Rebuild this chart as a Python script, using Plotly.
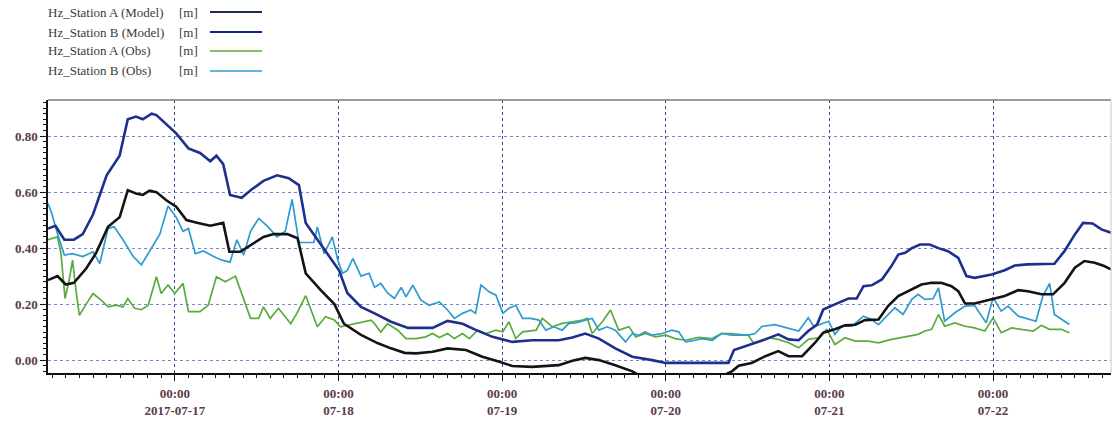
import pandas as pd
import plotly.graph_objects as go

# ---------------- data (hours relative to 2017-07-17 00:00) ----------------
base_time = "2017-07-17 00:00"

model_b_hours = [-18.6, -17.5, -16.2, -14.8, -13.5, -12.0, -10.0, -8.1, -6.9, -5.7, -4.7, -3.4, -2.7, -1.2, 0.2,
                 2.0, 3.7, 5.2, 6.1, 7.1, 8.1, 9.8, 11.3, 13.0, 15.0, 16.7, 18.2, 19.2, 20.9, 22.4, 24.1, 25.3,
                 27.3, 29.3, 31.7, 34.2, 37.8, 40.0, 42.2, 44.2, 46.6, 49.5, 52.4, 56.3, 58.3, 60.2, 62.2, 64.6,
                 67.1, 70.0, 72.0, 76.8, 81.2, 82.0, 84.6, 86.6, 88.5, 90.0, 91.5, 92.9, 94.2, 95.1, 96.8, 98.8,
                 100.0, 101.0, 102.2, 103.7, 105.1, 106.1, 107.1, 108.1, 109.3, 110.7, 112.0, 113.4, 114.9,
                 116.1, 117.3, 119.8, 121.7, 123.2, 125.1, 127.1, 129.0, 130.5, 132.0, 133.2, 134.6, 135.9, 137.3]
model_b_vals = [0.47, 0.48, 0.43, 0.43, 0.45, 0.52, 0.66, 0.73, 0.86, 0.87, 0.86, 0.88, 0.875, 0.84, 0.81,
                0.756, 0.74, 0.71, 0.73, 0.70, 0.59, 0.58, 0.61, 0.64, 0.66, 0.65, 0.625, 0.49, 0.43, 0.38, 0.32,
                0.24, 0.19, 0.167, 0.137, 0.115, 0.115, 0.14, 0.13, 0.107, 0.083, 0.065, 0.071, 0.071, 0.081,
                0.095, 0.077, 0.042, 0.012, 0.0, -0.01, -0.01, -0.01, 0.036, 0.056, 0.074, 0.092, 0.074, 0.071,
                0.104, 0.127, 0.181, 0.199, 0.22, 0.22, 0.264, 0.267, 0.288, 0.336, 0.377, 0.383, 0.40, 0.413,
                0.413, 0.40, 0.389, 0.365, 0.30, 0.294, 0.306, 0.321, 0.338, 0.342, 0.342, 0.344, 0.39, 0.449,
                0.49, 0.488, 0.467, 0.455]

model_a_hours = [-18.6, -17.2, -16.0, -14.8, -13.0, -11.6, -9.8, -8.1, -6.9, -5.7, -4.7, -3.7, -2.7, -1.2, 0.2,
                 1.7, 3.4, 5.2, 7.1, 8.0, 9.6, 11.1, 13.0, 14.5, 16.5, 18.0, 19.2, 21.4, 23.4, 24.8, 27.3, 29.8,
                 31.7, 33.7, 35.4, 37.8, 40.0, 42.7, 45.1, 47.6, 49.5, 52.4, 56.3, 58.3, 60.2, 62.2, 64.6, 67.1,
                 68.5, 80.0, 81.7, 82.7, 84.6, 86.6, 88.5, 90.0, 92.0, 93.9, 95.1, 96.8, 98.3, 99.8, 101.2,
                 103.2, 104.6, 106.1, 107.6, 109.5, 111.0, 112.4, 113.9, 114.9, 115.9, 117.3, 119.8, 121.7,
                 123.7, 125.1, 127.1, 128.8, 130.5, 132.0, 133.4, 134.9, 136.3, 137.3]
model_a_vals = [0.286, 0.30, 0.27, 0.276, 0.327, 0.38, 0.476, 0.51, 0.607, 0.595, 0.59, 0.605, 0.60, 0.57,
                0.548, 0.50, 0.49, 0.48, 0.49, 0.387, 0.387, 0.41, 0.44, 0.45, 0.45, 0.435, 0.31, 0.25, 0.20,
                0.13, 0.09, 0.06, 0.042, 0.026, 0.024, 0.03, 0.042, 0.036, 0.012, -0.006, -0.021, -0.024,
                -0.018, -0.002, 0.008, 0.0, -0.018, -0.04, -0.06, -0.06, -0.04, -0.02, -0.01, 0.014, 0.032,
                0.014, 0.014, 0.062, 0.098, 0.11, 0.124, 0.126, 0.143, 0.145, 0.193, 0.229, 0.246, 0.27, 0.276,
                0.276, 0.264, 0.246, 0.202, 0.202, 0.217, 0.229, 0.25, 0.246, 0.235, 0.235, 0.276, 0.33, 0.354,
                0.348, 0.336, 0.324]

obs_b_hours = [-18.6, -18.0, -17.2, -16.2, -15.0, -13.5, -12.0, -11.0, -9.8, -8.9, -7.6, -6.1, -4.9, -3.7, -2.2,
               -1.0, 0.2, 1.2, 2.0, 3.0, 4.2, 5.7, 6.9, 8.1, 9.1, 10.1, 11.1, 12.3, 13.5, 15.0, 16.2, 17.2, 18.2,
               19.4, 20.4, 20.9, 21.9, 23.1, 23.9, 24.6, 25.3, 26.1, 27.3, 28.5, 29.3, 30.2, 31.2, 32.2, 33.2,
               33.9, 34.9, 36.1, 37.3, 38.8, 40.0, 41.0, 42.2, 43.4, 44.1, 44.9, 46.1, 47.1, 48.1, 49.0, 50.0,
               51.0, 52.2, 53.4, 54.4, 55.6, 56.8, 57.8, 58.8, 60.2, 61.2, 62.2, 63.4, 64.6, 66.1, 67.1, 68.0,
               69.0, 70.0, 71.5, 72.9, 73.9, 74.9, 76.3, 77.3, 78.8, 80.2, 81.7, 84.1, 85.1, 86.1, 88.0, 90.0,
               91.5, 92.9, 93.7, 94.6, 95.9, 96.8, 97.8, 99.3, 101.0, 102.2, 103.2, 104.4, 105.6, 106.8, 108.1,
               109.0, 110.0, 111.2, 112.0, 112.9, 114.4, 115.9, 117.3, 119.0, 120.0, 121.2, 122.2, 123.7, 125.6,
               126.3, 127.3, 128.3, 129.0, 130.2, 131.2]
obs_b_vals = [0.56, 0.52, 0.45, 0.375, 0.38, 0.37, 0.387, 0.345, 0.47, 0.476, 0.43, 0.37, 0.34, 0.39, 0.45,
              0.55, 0.51, 0.46, 0.47, 0.38, 0.39, 0.37, 0.357, 0.35, 0.43, 0.375, 0.46, 0.506, 0.48, 0.44, 0.46,
              0.574, 0.42, 0.42, 0.42, 0.476, 0.38, 0.44, 0.357, 0.31, 0.32, 0.363, 0.30, 0.31, 0.26, 0.274,
              0.24, 0.22, 0.26, 0.226, 0.268, 0.214, 0.196, 0.208, 0.179, 0.149, 0.167, 0.179, 0.167, 0.268,
              0.244, 0.232, 0.167, 0.185, 0.196, 0.149, 0.149, 0.143, 0.107, 0.119, 0.107, 0.131, 0.133, 0.143,
              0.149, 0.107, 0.119, 0.107, 0.065, 0.095, 0.089, 0.101, 0.089, 0.095, 0.107, 0.101, 0.065, 0.071,
              0.077, 0.071, 0.095, 0.089, 0.089, 0.095, 0.12, 0.127, 0.115, 0.104, 0.151, 0.121, 0.127, 0.139,
              0.092, 0.121, 0.121, 0.157, 0.145, 0.127, 0.157, 0.187, 0.163, 0.217, 0.235, 0.217, 0.219, 0.258,
              0.139, 0.169, 0.193, 0.195, 0.133, 0.223, 0.175, 0.193, 0.157, 0.145, 0.139, 0.229, 0.274, 0.163,
              0.145, 0.127]

obs_a_hours = [-18.6, -17.2, -16.7, -16.1, -15.5, -15.0, -14.5, -14.0, -13.0, -12.0, -10.8, -9.8, -8.6, -7.6,
               -6.9, -5.9, -4.9, -3.9, -2.7, -2.0, -1.0, 0.0, 1.2, 2.0, 3.7, 4.9, 6.1, 7.4, 8.9, 9.8, 11.1, 12.3,
               13.0, 14.0, 15.2, 17.0, 17.9, 19.2, 19.9, 20.9, 22.1, 23.4, 24.3, 26.3, 28.8, 29.3, 30.2, 31.2,
               32.7, 33.9, 35.4, 36.8, 37.8, 38.8, 40.0, 41.0, 42.2, 43.2, 44.4, 45.6, 47.1, 48.1, 49.0, 50.0,
               51.0, 53.0, 53.9, 55.4, 56.8, 58.3, 59.8, 60.5, 61.2, 62.7, 63.9, 65.1, 66.6, 67.6, 69.0, 70.5,
               72.0, 73.4, 74.9, 76.8, 78.8, 80.2, 81.7, 84.1, 84.9, 86.1, 87.1, 88.5, 90.0, 91.5, 92.9, 94.4,
               95.6, 96.8, 98.3, 99.8, 101.7, 103.2, 105.1, 107.1, 109.0, 110.0, 111.0, 112.0, 112.9, 114.4,
               115.9, 117.3, 118.8, 120.0, 121.2, 122.7, 124.2, 125.9, 127.1, 128.3, 130.0, 131.2]
obs_a_vals = [0.43, 0.44, 0.38, 0.22, 0.286, 0.357, 0.25, 0.16, 0.20, 0.238, 0.214, 0.19, 0.196, 0.19, 0.22,
              0.185, 0.18, 0.196, 0.298, 0.238, 0.268, 0.238, 0.274, 0.173, 0.173, 0.196, 0.298, 0.28, 0.30,
              0.238, 0.149, 0.149, 0.19, 0.149, 0.185, 0.13, 0.167, 0.23, 0.185, 0.119, 0.155, 0.143, 0.119,
              0.13, 0.143, 0.13, 0.10, 0.13, 0.107, 0.077, 0.077, 0.083, 0.095, 0.081, 0.095, 0.077, 0.095,
              0.077, 0.107, 0.095, 0.107, 0.101, 0.137, 0.077, 0.101, 0.107, 0.149, 0.119, 0.131, 0.137, 0.143,
              0.149, 0.095, 0.137, 0.179, 0.107, 0.119, 0.083, 0.095, 0.083, 0.089, 0.077, 0.071, 0.081, 0.077,
              0.095, 0.095, 0.089, 0.06, 0.071, 0.08, 0.074, 0.062, 0.044, 0.074, 0.08, 0.11, 0.056, 0.08,
              0.068, 0.068, 0.062, 0.074, 0.083, 0.092, 0.104, 0.11, 0.163, 0.121, 0.133, 0.121, 0.115, 0.104,
              0.151, 0.098, 0.115, 0.11, 0.104, 0.124, 0.11, 0.11, 0.098]

tick_dates = ["2017-07-17", "2017-07-18", "2017-07-19", "2017-07-20", "2017-07-21", "2017-07-22"]
tick_labels = ["00:00<br>2017-07-17", "00:00<br>07-18", "00:00<br>07-19",
               "00:00<br>07-20", "00:00<br>07-21", "00:00<br>07-22"]
y_ticks = [0.0, 0.2, 0.4, 0.6, 0.8]
y_tick_labels = ["0.00", "0.20", "0.40", "0.60", "0.80"]

series_names = ["Hz_Station A (Model)", "Hz_Station B (Model)", "Hz_Station A (Obs)", "Hz_Station B (Obs)"]
series_units = ["[m]", "[m]", "[m]", "[m]"]

# ---------------- figure ----------------
t0 = pd.Timestamp(base_time)


def to_time(hours):
    return t0 + pd.to_timedelta(pd.Series(hours), unit="h")


W, H = 1114, 425
ML, MR, MT, MB = 48, 3, 100, 52
PW, PH = W - ML - MR, H - MT - MB


def px_x(px):
    return (px - ML) / PW


def px_y(py):
    return (H - MB - py) / PH


line_colors = ["#141414", "#1f2f8c", "#5aab3c", "#2d9bcf"]
legend_colors = ["#1e2a58", "#0f2488", "#5aab3c", "#2d9bcf"]
widths = [2.6, 2.6, 1.7, 1.7]
hours_list = [model_a_hours, model_b_hours, obs_a_hours, obs_b_hours]
vals_list = [model_a_vals, model_b_vals, obs_a_vals, obs_b_vals]

fig = go.Figure()
for i in [2, 3, 0, 1]:
    fig.add_trace(go.Scatter(
        x=to_time(hours_list[i]), y=vals_list[i], mode="lines", name=series_names[i],
        line=dict(color=line_colors[i], width=widths[i]), showlegend=False,
    ))

tick_font = dict(family="Liberation Serif", size=13, color="#5a3a4c", weight="bold")

fig.update_layout(
    width=W, height=H,
    margin=dict(l=ML, r=MR, t=MT, b=MB, autoexpand=False),
    paper_bgcolor="white", plot_bgcolor="white",
    showlegend=False,
    xaxis=dict(
        type="date",
        range=[t0 + pd.Timedelta(hours=-18.6), t0 + pd.Timedelta(hours=137.3)],
        tickmode="array", tickvals=tick_dates, ticktext=tick_labels,
        ticks="outside", ticklen=6, tickcolor="#111", tickwidth=1.2,
        showline=True, linecolor="#111", linewidth=1.5,
        showgrid=True, gridcolor="#3b4898", griddash="dot", gridwidth=1.3,
        zeroline=False, tickfont=tick_font, automargin=False, ticklabelstandoff=2,
        minor=dict(tick0="2017-07-17", dtick=2 * 3600 * 1000, ticks="outside", ticklen=3,
                   tickcolor="#111", showgrid=False),
    ),
    yaxis=dict(
        range=[-0.046, 0.929],
        tickmode="array", tickvals=y_ticks, ticktext=y_tick_labels,
        ticks="outside", ticklen=6, tickcolor="#111", tickwidth=1.2,
        showline=True, linecolor="#111", linewidth=1.5,
        showgrid=True, gridcolor="#7486d2", griddash="dot", gridwidth=1.3,
        zeroline=False, tickfont=tick_font, automargin=False,
        minor=dict(dtick=0.02, tick0=0, ticks="outside", ticklen=3, tickcolor="#111", showgrid=False),
    ),
)

fig.add_shape(type="line", xref="paper", yref="paper", x0=0, x1=1, y0=1, y1=1,
              line=dict(color="#7a7a7a", width=1.5))
fig.add_shape(type="line", xref="paper", yref="paper", x0=1, x1=1, y0=0, y1=1,
              line=dict(color="#c8c8c8", width=1))

legend_rows = [12, 32, 51, 71]
legend_font = dict(family="Liberation Serif", size=13, color="#3a3a3a")
for i, py in enumerate(legend_rows):
    fig.add_annotation(xref="paper", yref="paper", x=px_x(46), y=px_y(py), xanchor="left", yanchor="middle",
                       text=series_names[i], showarrow=False, font=legend_font)
    fig.add_annotation(xref="paper", yref="paper", x=px_x(177), y=px_y(py), xanchor="left", yanchor="middle",
                       text=series_units[i], showarrow=False, font=legend_font)
    fig.add_shape(type="line", xref="paper", yref="paper", x0=px_x(210), x1=px_x(262),
                  y0=px_y(py), y1=px_y(py),
                  line=dict(color=legend_colors[i], width=2.2 if i < 2 else 1.6))

fig.write_html("out.html", config={"displayModeBar": False},
               post_script="document.body.style.margin='0';document.body.style.overflow='hidden';")
